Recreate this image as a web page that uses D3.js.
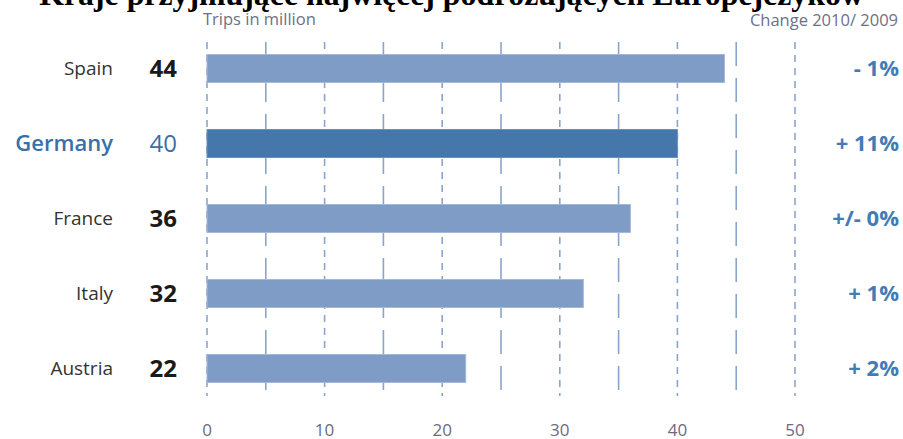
<!DOCTYPE html>
<html lang="pl">
<head>
  <meta charset="UTF-8">
  <title>Kraje przyjmujące najwięcej podróżujących Europejczyków</title>
  <script src="https://d3js.org/d3.v7.min.js"></script>
  <style>
    body {
      margin: 0;
      background: #fff;
    }
    svg text {
      font-family: "Open Sans", sans-serif;
    }
    .title {
      font-family: "Liberation Serif", serif !important;
      font-weight: bold;
    }
  </style>
</head>
<body>
<div id="chart"></div>

<script>
  const countries = ["Spain", "Germany", "France", "Italy", "Austria"];
  const trips = [44, 40, 36, 32, 22];
  const changes = ["- 1%", "+ 11%", "+/- 0%", "+ 1%", "+ 2%"];
  const majorTicks = [0, 10, 20, 30, 40, 50];
  const minorTicks = [5, 15, 25, 35, 45];
  const highlight = "Germany";

  const width = 903;
  const height = 439;

  const svg = d3.select("#chart").append("svg")
    .attr("width", width)
    .attr("height", height);

  const x = d3.scaleLinear()
    .domain([0, 50])
    .range([207, 795]);

  const y = d3.scaleBand()
    .domain(countries)
    .range([31, 406])
    .paddingInner(0.627)
    .paddingOuter(0.3135);

  // title, cut off at the top edge like in the source picture
  const title = svg.append("text")
    .attr("class", "title")
    .attr("x", width / 2)
    .attr("y", 5)
    .attr("text-anchor", "middle")
    .attr("font-size", 30)
    .attr("fill", "#000")
    .text("Kraje przyjmujące najwięcej podróżujących Europejczyków");
  const tw = title.node().getComputedTextLength();
  title.attr("font-size", 30 * 825 / tw);

  svg.append("text")
    .attr("x", 203)
    .attr("y", 25)
    .attr("font-size", 16.5)
    .attr("fill", "#6d7088")
    .text("Trips in million");

  svg.append("text")
    .attr("x", 898)
    .attr("y", 26)
    .attr("text-anchor", "end")
    .attr("font-size", 16.5)
    .attr("fill", "#6d7088")
    .text("Change 2010/ 2009");

  // grid lines
  const grid = svg.append("g");
  grid.selectAll("line.major")
    .data(majorTicks)
    .join("line")
      .attr("class", "major")
      .attr("x1", d => x(d))
      .attr("x2", d => x(d))
      .attr("y1", 42)
      .attr("y2", 396)
      .attr("stroke", "#8aa5cc")
      .attr("stroke-width", 1.6)
      .attr("stroke-dasharray", "7 6");
  grid.selectAll("line.minor")
    .data(minorTicks)
    .join("line")
      .attr("class", "minor")
      .attr("x1", d => x(d))
      .attr("x2", d => x(d))
      .attr("y1", 42)
      .attr("y2", 396)
      .attr("stroke", "#8aa5cc")
      .attr("stroke-width", 1.6)
      .attr("stroke-dasharray", "24 12");

  // bars
  svg.append("g")
    .selectAll("rect")
    .data(countries)
    .join("rect")
      .attr("x", x(0))
      .attr("y", d => y(d))
      .attr("width", (d, i) => x(trips[i]) - x(0))
      .attr("height", y.bandwidth())
      .attr("fill", d => d === highlight ? "#4677aa" : "#7f9cc6")
      .attr("stroke", d => d === highlight ? "#6a90bd" : "#a3b8d7")
      .attr("stroke-width", 1);

  const mid = d => y(d) + y.bandwidth() / 2;

  // country names
  svg.append("g")
    .selectAll("text")
    .data(countries)
    .join("text")
      .attr("x", 113)
      .attr("y", mid)
      .attr("dy", "0.36em")
      .attr("text-anchor", "end")
      .attr("font-size", d => d === highlight ? 22 : 19)
      .attr("font-weight", d => d === highlight ? "600" : "normal")
      .attr("fill", d => d === highlight ? "#3a6fa8" : "#333")
      .text(d => d);

  // values
  svg.append("g")
    .selectAll("text")
    .data(countries)
    .join("text")
      .attr("x", 177)
      .attr("y", mid)
      .attr("dy", "0.36em")
      .attr("text-anchor", "end")
      .attr("font-size", 24)
      .attr("font-weight", d => d === highlight ? "normal" : "bold")
      .attr("fill", d => d === highlight ? "#3a6fa8" : "#1a1a1a")
      .text((d, i) => trips[i]);

  // change labels
  svg.append("g")
    .selectAll("text")
    .data(countries)
    .join("text")
      .attr("x", 899)
      .attr("y", mid)
      .attr("dy", "0.36em")
      .attr("text-anchor", "end")
      .attr("font-size", 22)
      .attr("font-weight", "bold")
      .attr("fill", "#3f7cb8")
      .text((d, i) => changes[i]);

  // x tick labels
  svg.append("g")
    .selectAll("text")
    .data(majorTicks)
    .join("text")
      .attr("x", d => x(d))
      .attr("y", 436)
      .attr("text-anchor", "middle")
      .attr("font-size", 17)
      .attr("fill", "#6b6b7b")
      .text(d => d);
</script>
</body>
</html>
